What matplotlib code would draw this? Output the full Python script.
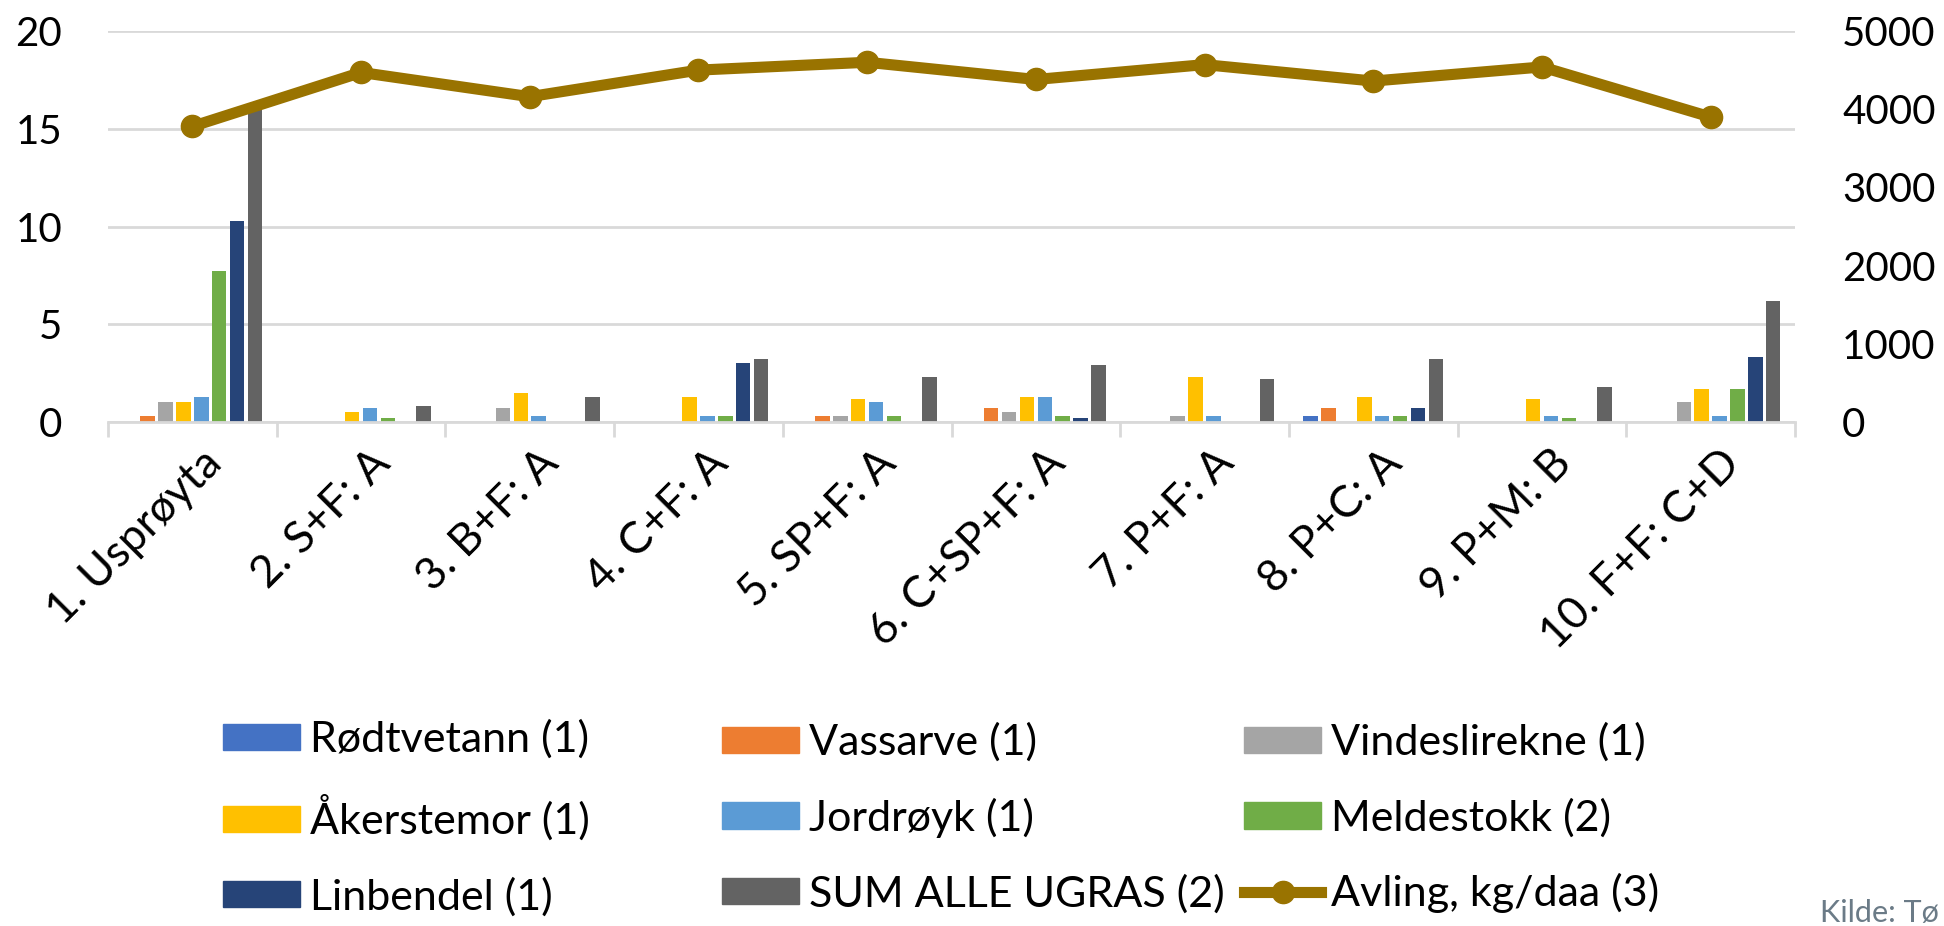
import matplotlib.pyplot as plt
import numpy as np
from matplotlib.patches import Patch
from matplotlib.lines import Line2D
from matplotlib.transforms import ScaledTranslation

plt.rcParams['font.family'] = ['Lato', 'DejaVu Sans']

categories = ["1. Usprøyta", "2. S+F: A", "3. B+F: A", "4. C+F: A", "5. SP+F: A",
              "6. C+SP+F: A", "7. P+F: A", "8. P+C: A", "9. P+M: B", "10. F+F: C+D"]

rodtvetann = [0, 0, 0, 0, 0, 0, 0, 0.3, 0, 0]
vassarve = [0.3, 0, 0, 0, 0.3, 0.7, 0, 0.7, 0, 0]
vindeslirekne = [1.0, 0, 0.7, 0, 0.3, 0.5, 0.3, 0, 0, 1.0]
akerstemor = [1.0, 0.5, 1.5, 1.3, 1.2, 1.3, 2.3, 1.3, 1.2, 1.7]
jordroyk = [1.3, 0.7, 0.3, 0.3, 1.0, 1.3, 0.3, 0.3, 0.3, 0.3]
meldestokk = [7.7, 0.2, 0, 0.3, 0.3, 0.3, 0, 0.3, 0.2, 1.7]
linbendel = [10.3, 0, 0, 3.0, 0, 0.2, 0, 0.7, 0, 3.3]
sum_ugras = [16.2, 0.8, 1.3, 3.2, 2.3, 2.9, 2.2, 3.2, 1.8, 6.2]
avling = [3780, 4470, 4160, 4500, 4600, 4380, 4570, 4360, 4540, 3900]

series_names = ["Rødtvetann (1)", "Vassarve (1)", "Vindeslirekne (1)", "Åkerstemor (1)",
                "Jordrøyk (1)", "Meldestokk (2)", "Linbendel (1)", "SUM ALLE UGRAS (2)"]
line_name = "Avling, kg/daa (3)"
colors = ["#4472C4", "#ED7D31", "#A5A5A5", "#FFC000", "#5B9BD5", "#70AD47", "#264478", "#636363"]
line_color = "#997300"
grid_color = "#D9D9D9"

series = [rodtvetann, vassarve, vindeslirekne, akerstemor, jordroyk, meldestokk, linbendel, sum_ugras]

fs = 29      # numbers on the axes
fs_txt = 31  # legend
fig = plt.figure(figsize=(19.44, 9.26), dpi=100)
ax = fig.add_axes([108 / 1944, 1 - 422 / 926, (1795 - 108) / 1944, (422 - 31) / 926])

x = np.arange(len(categories))
slot = 0.106
for k, (vals, c) in enumerate(zip(series, colors)):
    ax.bar(x + (k - 3.5) * slot, vals, width=0.086, color=c, zorder=2)

ax.set_xlim(-0.5, 9.5)
ax.set_ylim(0, 20)
ax.set_yticks([0, 5, 10, 15, 20])
ax.yaxis.grid(True, color=grid_color, linewidth=2)
ax.set_axisbelow(True)
for s in ["top", "right", "left"]:
    ax.spines[s].set_visible(False)
ax.spines["bottom"].set_color(grid_color)
ax.spines["bottom"].set_linewidth(2)
ax.tick_params(axis="y", length=0, labelsize=fs, pad=33)
ax.set_xticks(x)
ax.set_xticklabels(categories, rotation=45, ha="right", rotation_mode="anchor", fontsize=32)
ax.tick_params(axis="x", which="major", length=0, pad=18)
ax.set_xticks(np.arange(-0.5, 10, 1), minor=True)
ax.tick_params(axis="x", which="minor", length=11, width=2, color=grid_color)
shift = ScaledTranslation(0.08, 0.05, fig.dpi_scale_trans)
for lab in ax.get_xticklabels():
    lab.set_transform(lab.get_transform() + shift)

ax2 = ax.twinx()
ax2.plot(x, avling, color=line_color, linewidth=8, marker="o", markersize=16, zorder=3)
ax2.set_ylim(0, 5000)
ax2.set_yticks(range(0, 5001, 1000))
ax2.tick_params(axis="y", length=0, labelsize=fs, pad=34)
for s in ax2.spines.values():
    s.set_visible(False)

# legend in three fixed columns, like the original
handles = [Patch(color=c) for c in colors]
handles.append(Line2D([], [], color=line_color, linewidth=8, marker="o", markersize=16))
labels = series_names + [line_name]
col_x = [223 / 1944, 722 / 1944, 1244 / 1944]
for j in range(3):
    idx = [j, j + 3, j + 6]
    fig.legend([handles[i] for i in idx], [labels[i] for i in idx],
               loc="center left", bbox_to_anchor=(col_x[j], 1 - 818 / 926),
               frameon=False, fontsize=fs_txt, handlelength=1.79, handleheight=0.58,
               handletextpad=0.23, labelspacing=0.83, borderpad=0, borderaxespad=0)

fig.text(1820 / 1944, 1 - 922 / 926, "Kilde: Tø", fontsize=22, color="#6B7B87", va="baseline")

fig.savefig("out.png", dpi=100)
